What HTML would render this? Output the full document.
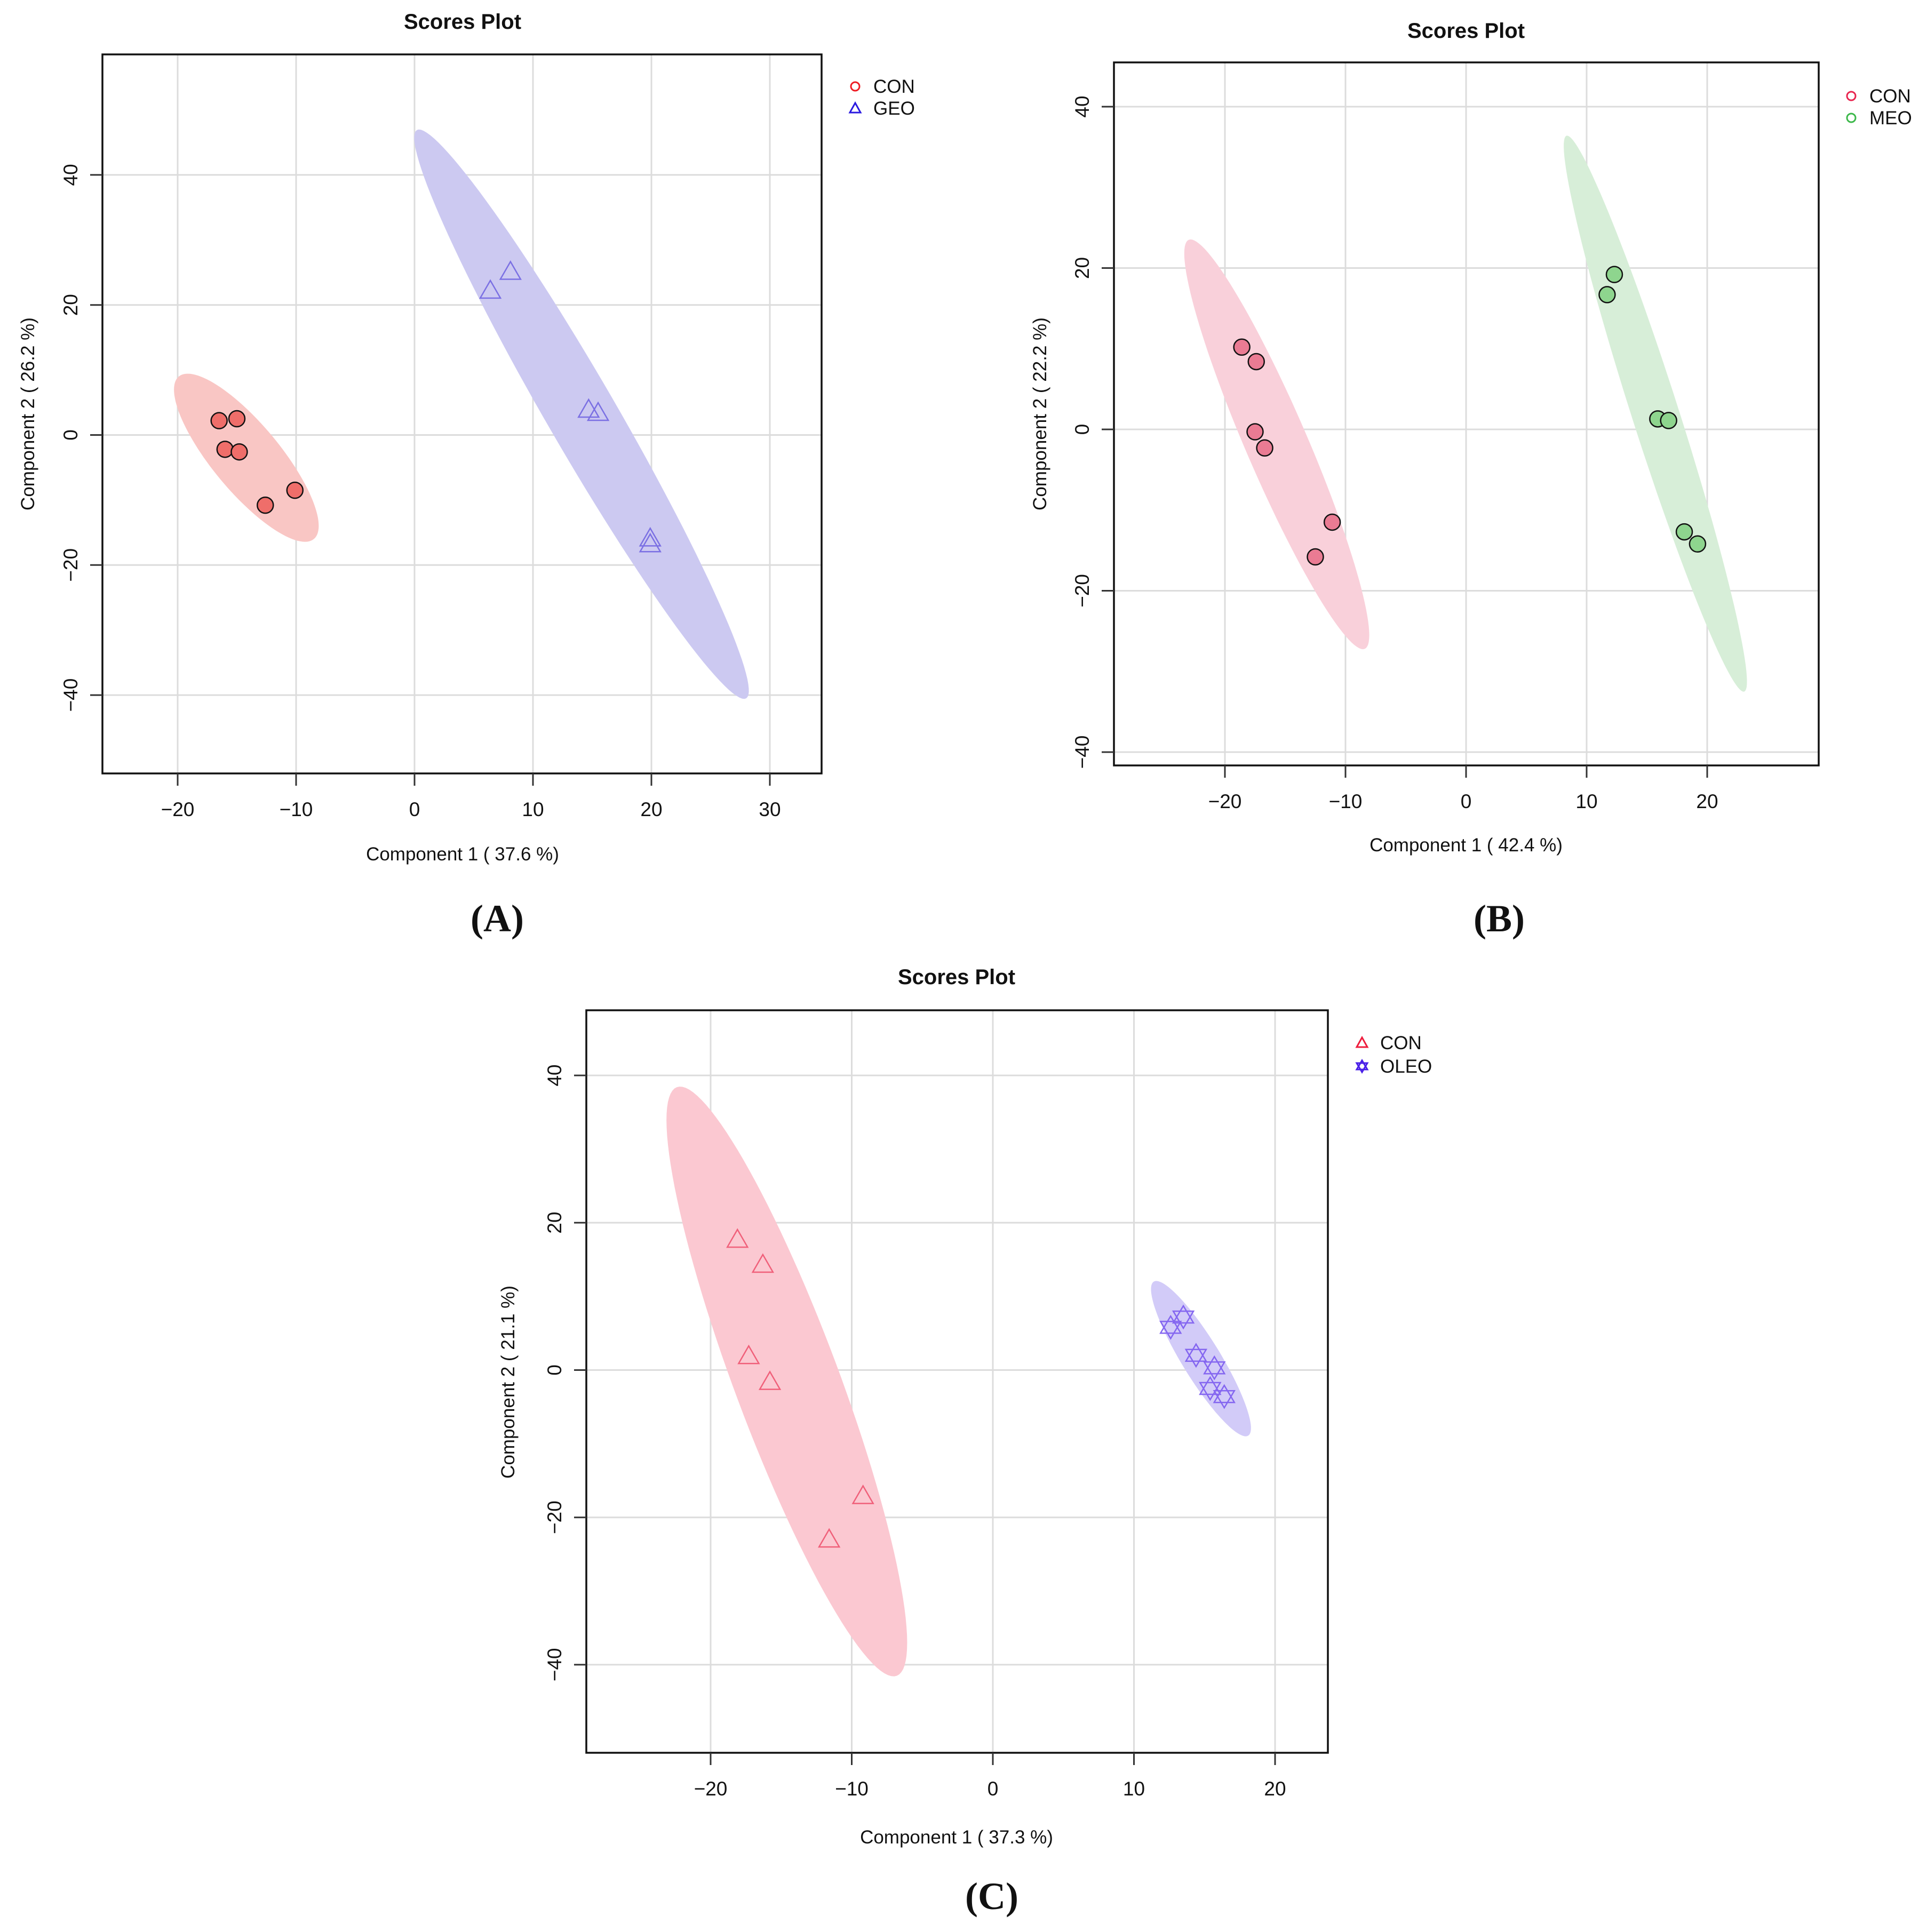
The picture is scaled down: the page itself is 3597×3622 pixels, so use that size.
<!DOCTYPE html>
<html><head><meta charset="utf-8"><style>
html,body{margin:0;padding:0;background:#fff;}
svg{display:block;}
text{font-family:"Liberation Sans",sans-serif;fill:#111;}
</style></head><body>
<svg id="fig" width="3597" height="3622" viewBox="0 0 3597 3622" xmlns="http://www.w3.org/2000/svg"></svg>
<script>
// ---------- Data ----------
var xTicksA = [-20,-10,0,10,20,30];
var xTicksB = [-20,-10,0,10,20];
var xTicksC = [-20,-10,0,10,20];
var yTicks = [-40,-20,0,20,40];

var conAx = [-16.5,-15.0,-16.0,-14.8,-12.6,-10.1];
var conAy = [2.2,2.5,-2.2,-2.6,-10.8,-8.5];
var geoX = [6.4,8.1,14.7,15.5,19.9,19.9];
var geoY = [22.2,25.1,3.9,3.4,-15.9,-16.8];

var conBx = [-18.6,-17.4,-17.5,-16.7,-11.1,-12.5];
var conBy = [10.2,8.4,-0.3,-2.3,-11.5,-15.8];
var meoX = [11.7,12.3,15.9,16.8,18.1,19.2];
var meoY = [16.7,19.2,1.3,1.1,-12.7,-14.2];

var conCx = [-18.1,-16.3,-17.3,-15.8,-9.2,-11.6];
var conCy = [17.7,14.3,1.9,-1.6,-17.1,-23.0];
var oleoX = [12.6,13.5,14.4,15.7,15.4,16.4];
var oleoY = [5.8,7.2,2.0,0.3,-2.5,-3.6];

// confidence ellipses: [cx, cy, ax, ay, bx, by] in data units
var ellConA = [-14.2,-3.5,5.7,-12.5,2.2,3.3];
var ellGeo = [14.1,3.2,13.9,-43.7,2.53,2.67];
var ellConB = [-15.7,-1.85,7.3,-25.35,2.36,1.51];
var ellMeo = [15.7,1.95,7.37,-34.45,1.85,0.89];
var ellConC = [-14.6,-1.55,7.8,-39.95,3.45,2.6];
var ellOleo = [14.75,1.55,3.35,-10.45,1.15,1.4];

// ---------- Rendering ----------
var NS = "http://www.w3.org/2000/svg";
var svg = document.getElementById('fig');
function mk(tag, attrs, parent){
  var e = document.createElementNS(NS, tag);
  for (var k in attrs) e.setAttribute(k, attrs[k]);
  (parent||svg).appendChild(e);
  return e;
}

function panel(p){
  var g = mk('g', {});
  
  
  function sx(v){ return p.x0 + v * p.kx; }
  function sy(v){ return p.y0 - v * p.ky; }
  p.xt.forEach(function(t){
    var l = mk('line', {x1:sx(t), x2:sx(t), y1:p.top, y2:p.bottom, stroke:'#dcdcdc', 'stroke-width':3}, g);
    
    
  });
  p.yt.forEach(function(t){
    var l = mk('line', {x1:p.left, x2:p.right, y1:sy(t), y2:sy(t), stroke:'#dcdcdc', 'stroke-width':3}, g);
    
    
  });
  p.ells.forEach(function(E){
    var e = E.p, pts = [];
    for (var i = 0; i < 120; i++){
      var a = i / 120 * 2 * Math.PI;
      var dx = e[0] + Math.cos(a) * e[2] + Math.sin(a) * e[4];
      var dy = e[1] + Math.cos(a) * e[3] + Math.sin(a) * e[5];
      pts.push(sx(dx).toFixed(1) + ',' + sy(dy).toFixed(1));
    }
    var pg = mk('polygon', {points:pts.join(' '), fill:E.fill, stroke:'none'}, g);
    
    
  });
  p.series.forEach(function(S){
    for (var i = 0; i < S.x.length; i++){
      var cx = sx(S.x[i]), cy = sy(S.y[i]), m;
      if (S.shape === 'circle'){
        m = mk('circle', {cx:cx, cy:cy, r:15, fill:S.fill, stroke:'#111', 'stroke-width':2.5}, g);
      } else if (S.shape === 'tri'){
        m = mk('polygon', {points:(cx-19)+','+(cy+14)+' '+(cx+19)+','+(cy+14)+' '+cx+','+(cy-19), fill:'none', stroke:S.stroke, 'stroke-width':2.5}, g);
      } else {
        var d = 'M'+(cx-19)+','+(cy+11)+' L'+(cx+19)+','+(cy+11)+' L'+cx+','+(cy-21)+' Z M'+(cx-19)+','+(cy-11)+' L'+(cx+19)+','+(cy-11)+' L'+cx+','+(cy+21)+' Z';
        m = mk('path', {d:d, fill:'none', stroke:S.stroke, 'stroke-width':2.5}, g);
      }
      
      
    }
  });
  var fr = mk('rect', {x:p.left, y:p.top, width:p.right-p.left, height:p.bottom-p.top, fill:'none', stroke:'#111', 'stroke-width':3.5}, g);
  
  
  p.xt.forEach(function(t){
    var l = mk('line', {x1:sx(t), x2:sx(t), y1:p.bottom, y2:p.bottom+23, stroke:'#333', 'stroke-width':3}, g);
    
    
    var tx = mk('text', {x:sx(t), y:p.bottom+80, 'font-size':37, 'text-anchor':'middle'}, g);
    tx.textContent = (t < 0 ? '\u2212' + Math.abs(t) : '' + t);
    
    
  });
  p.yt.forEach(function(t){
    var l = mk('line', {x1:p.left-23, x2:p.left, y1:sy(t), y2:sy(t), stroke:'#333', 'stroke-width':3}, g);
    
    
    var X = p.left - 47, Y = sy(t);
    var tx = mk('text', {x:X, y:Y, 'font-size':37, 'text-anchor':'middle', transform:'rotate(-90 '+X+' '+Y+')'}, g);
    tx.textContent = (t < 0 ? '\u2212' + Math.abs(t) : '' + t);
    
    
  });
  var ti = mk('text', {x:p.titleX, y:p.titleY+14, 'font-size':40, 'font-weight':'bold', 'text-anchor':'middle'}, g);
  ti.textContent = 'Scores Plot';
  
  
  var xl = mk('text', {x:p.titleX, y:p.xlabY+12, 'font-size':35, 'text-anchor':'middle'}, g);
  xl.textContent = p.xlab;
  
  
  var yl = mk('text', {x:p.ylabX+12, y:p.ylabY, 'font-size':35, 'text-anchor':'middle', transform:'rotate(-90 '+(p.ylabX+12)+' '+p.ylabY+')'}, g);
  yl.textContent = p.ylab;
  
  
  p.legend.forEach(function(L, i){
    var ly = p.legY + i * p.legGap, lx = p.legX, m;
    if (L.shape === 'circle') m = mk('circle', {cx:lx, cy:ly, r:8, fill:'none', stroke:L.c, 'stroke-width':3}, g);
    else if (L.shape === 'tri') m = mk('polygon', {points:(lx-10)+','+(ly+8)+' '+(lx+10)+','+(ly+8)+' '+lx+','+(ly-10), fill:'none', stroke:L.c, 'stroke-width':3}, g);
    else m = mk('path', {d:'M'+(lx-10)+','+(ly+6)+' L'+(lx+10)+','+(ly+6)+' L'+lx+','+(ly-11)+' Z M'+(lx-10)+','+(ly-6)+' L'+(lx+10)+','+(ly-6)+' L'+lx+','+(ly+11)+' Z', fill:'none', stroke:L.c, 'stroke-width':3}, g);
    
    
    var t = mk('text', {x:lx+34, y:ly+12, 'font-size':35}, g);
    t.textContent = L.t;
    
    
  });
  var pl = mk('text', {x:p.panX, y:p.panY+24, 'font-size':72, 'font-weight':'bold', 'text-anchor':'middle', style:'font-family:"Liberation Serif",serif'}, g);
  pl.textContent = p.panLabel;
  
  
}

panel({id:'a', left:192, right:1540, top:102, bottom:1450, x0:777, kx:22.2, y0:815.5, ky:12.19,
  xt:xTicksA, yt:yTicks, titleX:867, titleY:40, xlabY:1601, ylabX:52, ylabY:776,
  xlab:'Component 1 ( 37.6 %)', ylab:'Component 2 ( 26.2 %)',
  legX:1603, legY:162, legGap:41, legend:[{t:'CON',c:'#ee1c24',shape:'circle'},{t:'GEO',c:'#2a1ae0',shape:'tri'}],
  panX:932, panY:1722, panLabel:'(A)',
  ells:[{p:ellConA, fill:'#f9c6c4', name:'con-ellipse'},{p:ellGeo, fill:'#ccc9f1', name:'geo-ellipse'}],
  series:[{x:conAx, y:conAy, shape:'circle', fill:'#ef6e6a', name:'con'},{x:geoX, y:geoY, shape:'tri', stroke:'#7b70e3', name:'geo'}]});

panel({id:'b', left:2088, right:3409, top:117, bottom:1435, x0:2748, kx:22.6, y0:805, ky:15.125,
  xt:xTicksB, yt:yTicks, titleX:2748, titleY:57, xlabY:1584, ylabX:1949, ylabY:776,
  xlab:'Component 1 ( 42.4 %)', ylab:'Component 2 ( 22.2 %)',
  legX:3470, legY:180, legGap:41, legend:[{t:'CON',c:'#e8254f',shape:'circle'},{t:'MEO',c:'#3cb84a',shape:'circle'}],
  panX:2810, panY:1722, panLabel:'(B)',
  ells:[{p:ellConB, fill:'#f9d0da', name:'con-ellipse'},{p:ellMeo, fill:'#d7eed8', name:'meo-ellipse'}],
  series:[{x:conBx, y:conBy, shape:'circle', fill:'#ea7b93', name:'con'},{x:meoX, y:meoY, shape:'circle', fill:'#8ed58e', name:'meo'}]});

panel({id:'c', left:1099, right:2489, top:1894, bottom:3286, x0:1861, kx:26.45, y0:2568.5, ky:13.81,
  xt:xTicksC, yt:yTicks, titleX:1793, titleY:1831, xlabY:3444, ylabX:952, ylabY:2591,
  xlab:'Component 1 ( 37.3 %)', ylab:'Component 2 ( 21.1 %)',
  legX:2553, legY:1955, legGap:44, legend:[{t:'CON',c:'#ee1c3c',shape:'tri'},{t:'OLEO',c:'#4a20e8',shape:'star'}],
  panX:1859, panY:3555, panLabel:'(C)',
  ells:[{p:ellConC, fill:'#fbc8d1', name:'con-ellipse'},{p:ellOleo, fill:'#d2cbf8', name:'oleo-ellipse'}],
  series:[{x:conCx, y:conCy, shape:'tri', stroke:'#f0607a', name:'con'},{x:oleoX, y:oleoY, shape:'star', stroke:'#8466f0', name:'oleo'}]});
</script>
</body></html>
